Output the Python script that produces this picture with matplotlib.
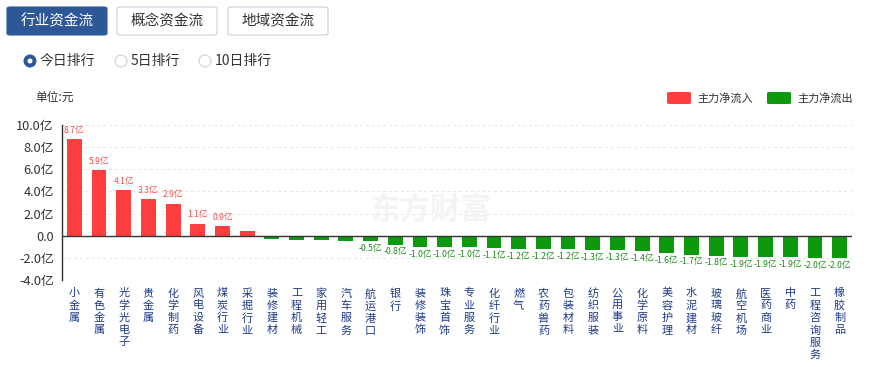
import matplotlib
matplotlib.use("Agg")
import matplotlib.pyplot as plt
from matplotlib.patches import FancyBboxPatch, Circle
from matplotlib.transforms import IdentityTransform
import numpy as np

plt.rcParams['font.family'] = ['Noto Sans CJK SC', 'DejaVu Sans']

categories = ["小金属", "有色金属", "光学光电子", "贵金属", "化学制药", "风电设备", "煤炭行业",
              "采掘行业", "装修建材", "工程机械", "家用轻工", "汽车服务", "航运港口", "银行",
              "装修装饰", "珠宝首饰", "专业服务", "化纤行业", "燃气", "农药兽药", "包装材料",
              "纺织服装", "公用事业", "化学原料", "美容护理", "水泥建材", "玻璃玻纤", "航空机场",
              "医药商业", "中药", "工程咨询服务", "橡胶制品"]
values = [8.7, 5.9, 4.1, 3.3, 2.9, 1.1, 0.9, 0.4, -0.3, -0.35, -0.4, -0.45, -0.5, -0.8,
          -1.0, -1.0, -1.0, -1.1, -1.2, -1.2, -1.2, -1.3, -1.3, -1.4, -1.6, -1.7, -1.8,
          -1.9, -1.9, -1.9, -2.0, -2.0]
labels = ["8.7亿", "5.9亿", "4.1亿", "3.3亿", "2.9亿", "1.1亿", "0.9亿", "", "", "", "", "",
          "-0.5亿", "-0.8亿", "-1.0亿", "-1.0亿", "-1.0亿", "-1.1亿", "-1.2亿", "-1.2亿", "-1.2亿",
          "-1.3亿", "-1.3亿", "-1.4亿", "-1.6亿", "-1.7亿", "-1.8亿", "-1.9亿", "-1.9亿", "-1.9亿",
          "-2.0亿", "-2.0亿"]
yticks = [10, 8, 6, 4, 2, 0, -2, -4]
ytick_labels = ["10.0亿", "8.0亿", "6.0亿", "4.0亿", "2.0亿", "0.0", "-2.0亿", "-4.0亿"]
tabs = ["行业资金流", "概念资金流", "地域资金流"]
radios = ["今日排行", "5日排行", "10日排行"]
legend_names = ["主力净流入", "主力净流出"]

RED = "#ff3f3f"
GREEN = "#0c9a0c"
BLUE = "#2d5796"

W, H = 875, 367
fig = plt.figure(figsize=(W / 100, H / 100), dpi=100)

def fx(px):
    return px / W

def fy(py):
    return 1 - py / H

# tabs
tab_x = [7, 117, 228]
for i, t in enumerate(tabs):
    filled = i == 0
    box = FancyBboxPatch((fx(tab_x[i]), fy(35)), fx(100), 28 / H,
                         boxstyle="round,pad=0,rounding_size=0.004",
                         transform=fig.transFigure,
                         facecolor=BLUE if filled else "white",
                         edgecolor=BLUE if filled else "#c8d0dc", linewidth=0.8)
    fig.patches.append(box)
    fig.text(fx(tab_x[i] + 50), fy(21), t, ha="center", va="center", fontsize=10.5,
             color="white" if filled else "#333333")

# radios (drawn in pixel space)
radio_x = [30, 121, 205]
for i, r in enumerate(radios):
    cx, cy = radio_x[i], 61
    px_c = (cx, H - cy)
    if i == 0:
        fig.add_artist(Circle(px_c, 6.5, transform=IdentityTransform(),
                              facecolor=BLUE, edgecolor="none"))
        fig.add_artist(Circle(px_c, 2.5, transform=IdentityTransform(),
                              facecolor="white", edgecolor="none"))
    else:
        fig.add_artist(Circle(px_c, 6.0, transform=IdentityTransform(),
                              facecolor="white", edgecolor="#d0d7e0", linewidth=0.9))
    fig.text(fx(cx + 10), fy(cy), r, ha="left", va="center", fontsize=10, color="#333333")

fig.text(fx(35), fy(97), "单位:元", ha="left", va="center", fontsize=8.5, color="#333333")

# legend
leg_x = [667, 767]
for i, name in enumerate(legend_names):
    box = FancyBboxPatch((fx(leg_x[i]), fy(104)), fx(24), 12 / H,
                         boxstyle="round,pad=0,rounding_size=0.003",
                         transform=fig.transFigure,
                         facecolor=RED if i == 0 else GREEN, edgecolor="none")
    fig.patches.append(box)
    fig.text(fx(leg_x[i] + 30), fy(98), name, ha="left", va="center", fontsize=8,
             color="#333333")

# watermark
fig.text(fx(430), fy(210), "东方财富", ha="center", va="center", fontsize=22,
         color="#f4f4f4", fontweight="bold", zorder=0)

ax = fig.add_axes([fx(62), fy(280), fx(852 - 62), 155 / H])
ax.patch.set_alpha(0)
x = np.arange(len(categories))
colors = [RED if v >= 0 else GREEN for v in values]
ax.bar(x, values, width=0.6, color=colors, zorder=2)
ax.set_xlim(-0.5, len(categories) - 0.5)
ax.set_ylim(-4, 10)

for xi, v, lab in zip(x, values, labels):
    if not lab:
        continue
    if v >= 0:
        ax.annotate(lab, (xi, v), xytext=(0, 3), textcoords="offset points",
                    ha="center", va="bottom", fontsize=6.2, color="#f05050")
    else:
        ax.annotate(lab, (xi, v), xytext=(0, -2), textcoords="offset points",
                    ha="center", va="top", fontsize=6.2, color="#1a8a1a")

ax.set_yticks(yticks)
ax.set_yticklabels(ytick_labels, fontsize=9.2, color="#333333")
ax.tick_params(axis="y", length=0, pad=6)
for t in yticks:
    if t != 0:
        ax.axhline(t, color="#e6e6e6", linewidth=0.7, linestyle=(0, (3, 3)), zorder=0)
ax.axhline(0, color="#333333", linewidth=1, zorder=3)

ax.set_xticks(x)
ax.set_xticklabels(["\n".join(c) for c in categories], fontsize=8, color="#1f3a8a",
                   linespacing=1.25, va="top")
ax.tick_params(axis="x", length=0, pad=6)

for s in ["top", "right", "bottom"]:
    ax.spines[s].set_visible(False)
ax.spines["left"].set_color("#333333")
ax.spines["left"].set_linewidth(1)

fig.savefig("out.png", dpi=100)
